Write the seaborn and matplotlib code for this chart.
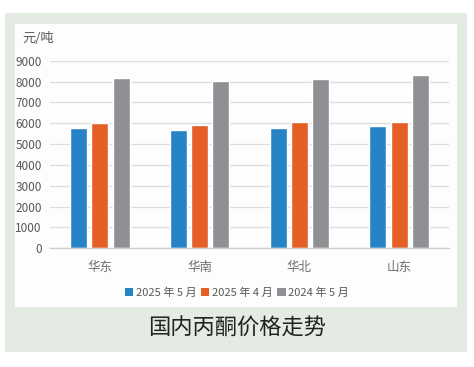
import matplotlib
matplotlib.use("Agg")
import matplotlib.pyplot as plt
import seaborn as sns
import pandas as pd
from matplotlib.patches import Rectangle

regions = ["华东", "华南", "华北", "山东"]
series = ["2025 年 5 月", "2025 年 4 月", "2024 年 5 月"]
may_2025 = [5750, 5660, 5770, 5850]
apr_2025 = [6000, 5915, 6075, 6040]
may_2024 = [8180, 8050, 8100, 8300]
yticks = [0, 1000, 2000, 3000, 4000, 5000, 6000, 7000, 8000, 9000]
colors = ["#2683C6", "#E35F26", "#8F9093"]

rows = []
for s, vals in zip(series, [may_2025, apr_2025, may_2024]):
    for r, v in zip(regions, vals):
        rows.append({"地区": r, "系列": s, "价格": v})
df = pd.DataFrame(rows)

sns.set_theme(style="white")
plt.rcParams["font.family"] = ["Noto Sans CJK SC", "DejaVu Sans"]

W, H = 474, 367
fig = plt.figure(figsize=(W / 100, H / 100), dpi=100)
fig.patch.set_facecolor("white")
fig.patches.append(Rectangle((5 / W, 1 - 352 / H), 462 / W, 339 / H,
                             transform=fig.transFigure, facecolor="#E3EBE3",
                             edgecolor="none", zorder=-10))
fig.patches.append(Rectangle((15 / W, 1 - 307 / H), 442 / W, 283 / H,
                             transform=fig.transFigure, facecolor="#FDFDFD",
                             edgecolor="none", zorder=-9))

ax = fig.add_axes([50 / W, 1 - 248.3 / H, 399 / W, 187.6 / H])
ax.set_facecolor("none")
sns.barplot(data=df, x="地区", y="价格", hue="系列", hue_order=series,
            palette=colors, width=0.64, gap=0.2, ax=ax, saturation=1,
            legend=False, errorbar=None)
ax.set_ylim(0, 9000)
ax.set_xlim(-0.5, 3.5)
ax.set_yticks(yticks)
ax.set_yticklabels([str(t) for t in yticks], fontsize=8.5, color="#595959")
ax.set_xticks(range(len(regions)))
ax.set_xticklabels(regions, fontsize=9, color="#707070")
ax.tick_params(axis="both", length=0)
ax.tick_params(axis="y", pad=6)
ax.tick_params(axis="x", pad=9)
ax.set_xlabel("")
ax.set_ylabel("")
ax.yaxis.grid(True, color="#DDDDDD", linewidth=0.9)
ax.set_axisbelow(True)
for side in ["top", "right", "left"]:
    ax.spines[side].set_visible(False)
ax.spines["bottom"].set_color("#D0D0D0")
ax.spines["bottom"].set_linewidth(1)

fig.text(22 / W, 1 - 38 / H, "元/吨", fontsize=9.5, color="#595959",
         ha="left", va="center")

handles = [Rectangle((0, 0), 1, 1, facecolor=c, edgecolor="none") for c in colors]
fig.legend(handles, series, loc="center", bbox_to_anchor=(0.5, 1 - 293 / H),
           ncol=3, frameon=False, fontsize=8, handlelength=0.75,
           handleheight=0.75, handletextpad=0.25, columnspacing=0.4,
           labelcolor="#595959")

fig.text(0.5, 1 - 328 / H, "国内丙酮价格走势", fontsize=16, color="#222222",
         ha="center", va="center")

fig.savefig("out.png", dpi=100)
